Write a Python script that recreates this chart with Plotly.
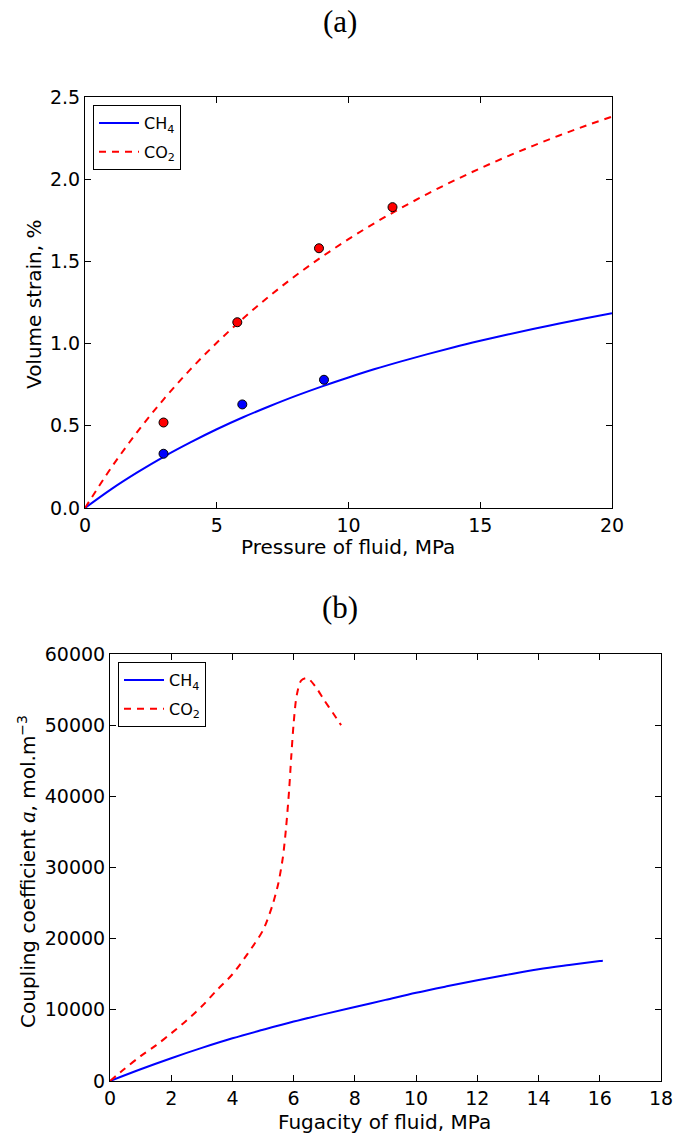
import plotly.graph_objects as go

W, H = 681, 1137

# ---- panel (a) data ----
p_curve = list(range(0, 21))
ch4_strain = [0, 0.115, 0.218, 0.313, 0.399, 0.479, 0.552, 0.619, 0.682, 0.740, 0.794,
              0.845, 0.892, 0.936, 0.978, 1.017, 1.054, 1.089, 1.122, 1.154, 1.184]
co2_strain = [0, 0.246, 0.466, 0.664, 0.843, 1.005, 1.153, 1.289, 1.414, 1.529, 1.635,
              1.734, 1.825, 1.911, 1.991, 2.066, 2.137, 2.203, 2.266, 2.325, 2.380]
ch4_p_exp = [2.98, 5.97, 9.07]
ch4_strain_exp = [0.33, 0.63, 0.78]
co2_p_exp = [2.98, 5.78, 8.88, 11.67]
co2_strain_exp = [0.52, 1.13, 1.58, 1.83]

# ---- panel (b) data ----
ch4_fug = [0, 1, 2, 3, 4, 5, 6, 7, 8, 9, 10, 11, 12, 13, 14, 15, 16, 16.1]
ch4_coef = [0, 1650, 3200, 4650, 6000, 7200, 8350, 9400, 10400, 11400, 12400,
            13300, 14150, 14950, 15700, 16300, 16850, 16900]
co2_fug = [0, 0.5, 1, 1.5, 2, 2.5, 3, 3.5, 4, 4.5, 5, 5.3, 5.5, 5.65, 5.75, 5.85,
           5.92, 6.0, 6.1, 6.25, 6.45, 6.7, 7.0, 7.3, 7.55]
co2_coef = [0, 1800, 3500, 5000, 6700, 8500, 10500, 12800, 15000, 17900, 21200,
            24600, 27800, 31500, 35500, 40800, 45500, 50300, 54200, 56300, 56600,
            55500, 53500, 51600, 50000]

BLUE = "#0000ff"
RED = "#ff0000"
DASH = "7px,6px"

def px_x(p):
    return p / W

def px_y(p):
    return 1 - p / H

fig = go.Figure()

# panel (a)
fig.add_trace(go.Scatter(x=p_curve, y=ch4_strain, mode="lines", name="CH<sub>4</sub>",
                         line=dict(color=BLUE, width=2, shape="spline"), xaxis="x", yaxis="y",
                         legend="legend", legendgroup="a1"))
fig.add_trace(go.Scatter(x=p_curve, y=co2_strain, mode="lines", name="CO<sub>2</sub>",
                         line=dict(color=RED, width=2, dash=DASH, shape="spline"),
                         xaxis="x", yaxis="y", legend="legend", legendgroup="a2"))
fig.add_trace(go.Scatter(x=ch4_p_exp, y=ch4_strain_exp, mode="markers", showlegend=False,
                         marker=dict(color=BLUE, size=9, line=dict(color="black", width=1)),
                         xaxis="x", yaxis="y"))
fig.add_trace(go.Scatter(x=co2_p_exp, y=co2_strain_exp, mode="markers", showlegend=False,
                         marker=dict(color=RED, size=9, line=dict(color="black", width=1)),
                         xaxis="x", yaxis="y"))

# panel (b)
fig.add_trace(go.Scatter(x=ch4_fug, y=ch4_coef, mode="lines", name="CH<sub>4</sub>",
                         line=dict(color=BLUE, width=2, shape="spline"), xaxis="x2", yaxis="y2",
                         legend="legend2", legendgroup="b1"))
fig.add_trace(go.Scatter(x=co2_fug, y=co2_coef, mode="lines", name="CO<sub>2</sub>",
                         line=dict(color=RED, width=2, dash=DASH, shape="spline", smoothing=0.8),
                         xaxis="x2", yaxis="y2", legend="legend2", legendgroup="b2"))

tickfont = dict(family="DejaVu Sans", size=19, color="black")
axis_common = dict(showline=True, linecolor="black", linewidth=1, mirror="allticks",
                   ticks="inside", ticklen=6, tickcolor="black", tickwidth=1,
                   showgrid=False, zeroline=False, tickfont=tickfont, automargin=False)

legend_common = dict(xanchor="left", yanchor="top",
                     bordercolor="black", borderwidth=1, bgcolor="white",
                     font=dict(family="DejaVu Sans", size=16, color="black"),
                     traceorder="grouped", tracegroupgap=5, itemwidth=40)

fig.update_layout(
    template="none",
    width=W, height=H,
    margin=dict(l=0, r=0, t=0, b=0),
    paper_bgcolor="white", plot_bgcolor="white",
    xaxis=dict(domain=[px_x(85), px_x(612)], range=[0, 20], tickvals=[0, 5, 10, 15, 20],
               anchor="y", **axis_common),
    yaxis=dict(domain=[px_y(508), px_y(97)], range=[0, 2.5],
               tickvals=[0, 0.5, 1.0, 1.5, 2.0, 2.5], tickformat=".1f",
               anchor="x", **axis_common),
    xaxis2=dict(domain=[px_x(110), px_x(661)], range=[0, 18],
                tickvals=list(range(0, 19, 2)), anchor="y2", **axis_common),
    yaxis2=dict(domain=[px_y(1081), px_y(654)], range=[0, 60000],
                tickvals=list(range(0, 60001, 10000)), tickformat="d",
                anchor="x2", **axis_common),
    legend=dict(x=px_x(93), y=px_y(105), **legend_common),
    legend2=dict(x=px_x(118), y=px_y(662), **legend_common),
    showlegend=True,
)

label_font = dict(family="DejaVu Sans", size=20, color="black")
title_font = dict(family="Liberation Serif", size=31, color="black")
ann = [
    dict(text="(a)", x=px_x(340), y=px_y(21), font=title_font),
    dict(text="(b)", x=px_x(340), y=px_y(607), font=title_font),
    dict(text="Pressure of fluid, MPa", x=px_x(348), y=px_y(547), font=label_font),
    dict(text="Fugacity of fluid, MPa", x=px_x(385), y=px_y(1122), font=label_font),
    dict(text="Volume strain, %", x=px_x(34), y=px_y(305), font=label_font, textangle=-90),
    dict(text="Coupling coefficient <span style=\"font-family:Liberation Serif;font-style:italic;font-size:23px\">a</span>, mol.m<sup>−3</sup>",
         x=px_x(27), y=px_y(872), font=label_font, textangle=-90),
]
for a in ann:
    a.update(xref="paper", yref="paper", showarrow=False, xanchor="center", yanchor="middle")
    fig.add_annotation(**a)

fig.write_html("out.html")
